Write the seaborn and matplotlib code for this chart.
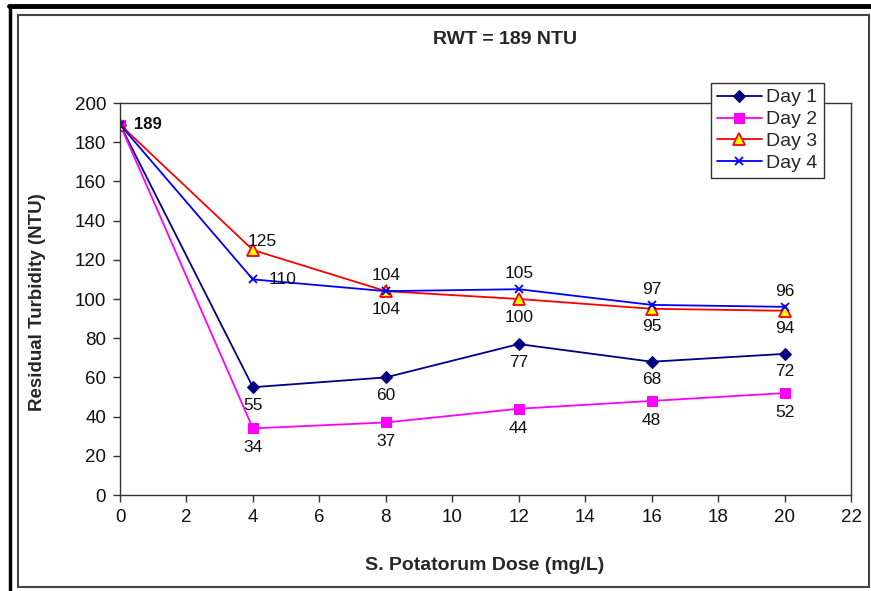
import pandas as pd
import matplotlib.pyplot as plt
import seaborn as sns
from matplotlib.lines import Line2D
from matplotlib.patches import Rectangle

dose = [0, 4, 8, 12, 16, 20]
day1 = [189, 55, 60, 77, 68, 72]
day2 = [189, 34, 37, 44, 48, 52]
day3 = [189, 125, 104, 100, 95, 94]
day4 = [189, 110, 104, 105, 97, 96]
series_names = ['Day 1', 'Day 2', 'Day 3', 'Day 4']

sns.set_style('ticks')
plt.rcParams['font.family'] = ['Liberation Sans', 'DejaVu Sans']

fig = plt.figure(figsize=(8.71, 5.91), dpi=100)
ax = fig.add_axes([120 / 871, 1 - 495 / 591, 731 / 871, 392 / 591])

styles = [
    dict(color='#000080', marker='D', markersize=6, markerfacecolor='#000080', markeredgecolor='#000080'),
    dict(color='#FF00FF', marker='s', markersize=7, markerfacecolor='#FF00FF', markeredgecolor='#FF00FF'),
    dict(color='#FF0000', marker='^', markersize=8, markerfacecolor='#FFFF00', markeredgecolor='#FF0000',
         markeredgewidth=1.3),
    dict(color='#0000FF', marker='x', markersize=6, markeredgecolor='#0000FF', markeredgewidth=1.3),
]

for name, vals, st in zip(series_names, [day1, day2, day3, day4], styles):
    df = pd.DataFrame({'dose': dose, 'ntu': vals})
    sns.lineplot(data=df, x='dose', y='ntu', ax=ax, label=name, linewidth=1.3, **st)

# point labels
def put(x, y, txt, dx, dy, ha='center', bold=False, size=12.5):
    ax.annotate(txt, (x, y), xytext=(dx, dy), textcoords='offset points', ha=ha, va='center',
                fontsize=size, color='#111111', fontweight='bold' if bold else 'normal')

put(0, 189, '189', 10, 0, ha='left', bold=True, size=12)
for x, y in zip(dose[1:], day1[1:]):
    put(x, y, str(y), 0, -13)
for x, y in zip(dose[1:], day2[1:]):
    put(x, y, str(y), 0, -14)
put(4, 125, '125', 7, 6)
for x, y in zip(dose[2:], day3[2:]):
    put(x, y, str(y), 0, -13)
put(4, 110, '110', 21, 0)
for x, y in zip(dose[2:], day4[2:]):
    put(x, y, str(y), 0, 11)

ax.set_xlim(0, 22)
ax.set_ylim(0, 200)
ax.set_xticks(range(0, 23, 2))
ax.set_yticks(range(0, 201, 20))
ax.tick_params(axis='both', labelsize=13.5, length=5, width=1, color='#333333', labelcolor='#111111', pad=5)
for sp in ax.spines.values():
    sp.set_visible(True)
    sp.set_color('#333333')
    sp.set_linewidth(1)

ax.set_xlabel('')
ax.set_ylabel('')
fig.text(485 / 871, 1 - 566 / 591, 'S. Potatorum Dose (mg/L)', ha='center', va='center',
         fontsize=14, fontweight='bold')
fig.text(38 / 871, 1 - 302 / 591, 'Residual Turbidity (NTU)', ha='center', va='center',
         rotation=90, fontsize=13.5, fontweight='bold')
fig.text(505 / 871, 1 - 40 / 591, 'RWT = 189 NTU', ha='center', va='center',
         fontsize=14, fontweight='bold')

leg = ax.legend(loc='upper left', bbox_to_anchor=(711 / 871, 1 - 83 / 591), bbox_transform=fig.transFigure,
                frameon=True, fancybox=False, fontsize=14, handlelength=2.3, handletextpad=0.25,
                labelspacing=0.22, borderpad=0.3, borderaxespad=0)
leg.get_frame().set_edgecolor('#333333')
leg.get_frame().set_linewidth(1)
leg.get_frame().set_alpha(1)

# frames around the chart
fig.add_artist(Rectangle((18 / 871, 1 - 587 / 591), 851 / 871, 572 / 591, transform=fig.transFigure,
                         fill=False, edgecolor='#444444', linewidth=1.5))
fig.add_artist(Line2D([9 / 871, 1], [1 - 6 / 591, 1 - 6 / 591], transform=fig.transFigure,
                      color='black', linewidth=3.5))
fig.add_artist(Line2D([10 / 871, 10 / 871], [0, 1 - 6 / 591], transform=fig.transFigure,
                      color='black', linewidth=2.5))

fig.savefig('out.png', dpi=100)
